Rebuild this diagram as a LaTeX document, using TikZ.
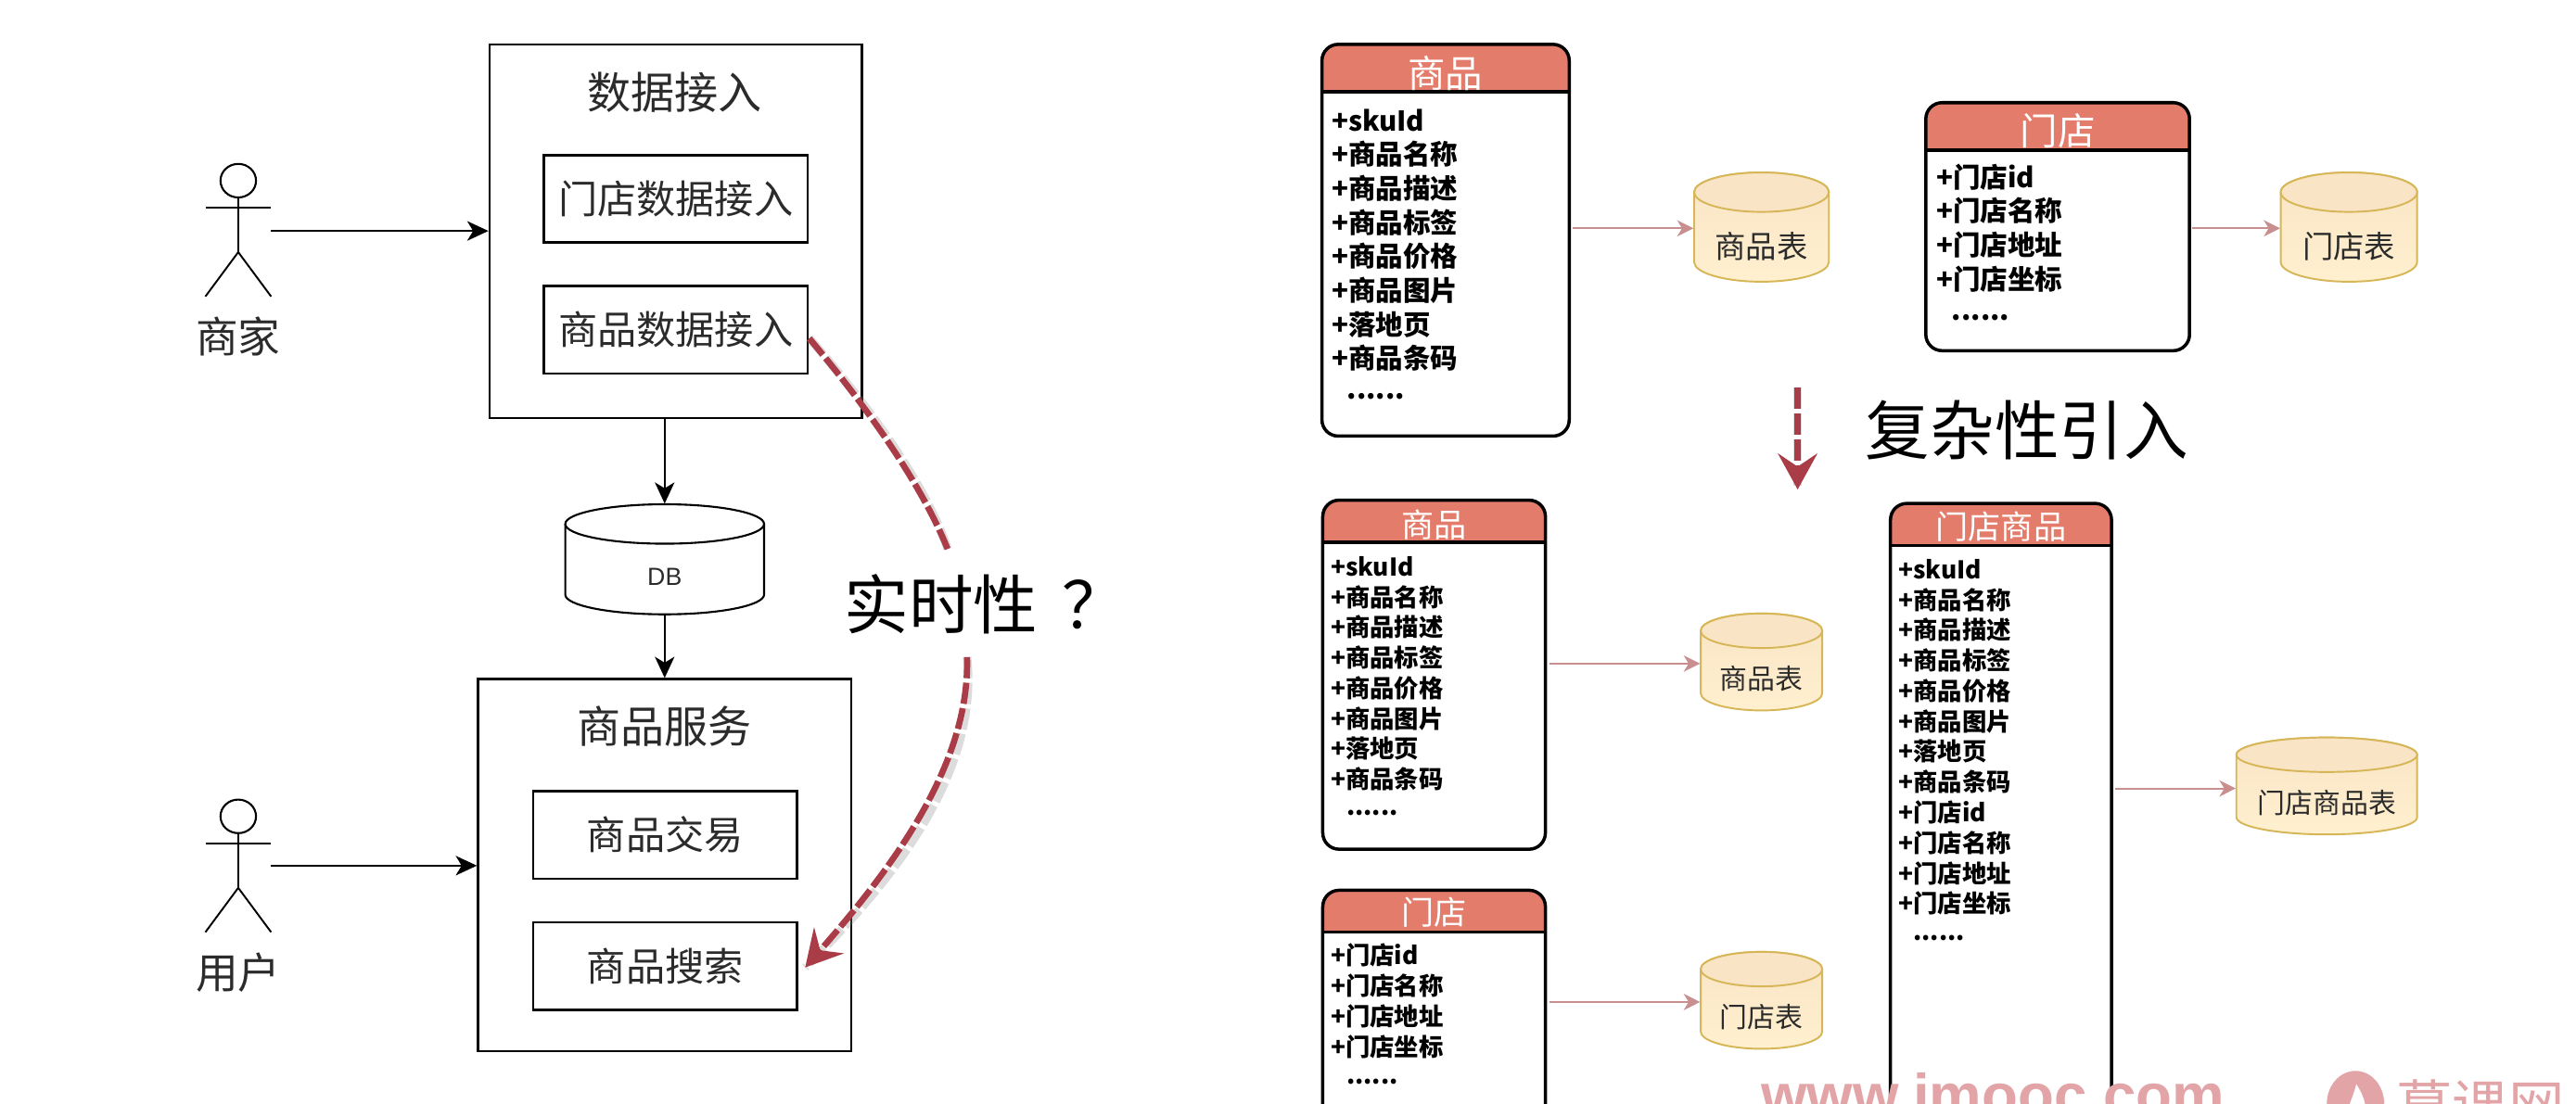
\documentclass[tikz,border=0pt]{standalone}
\usepackage{fontspec}
\setmainfont{Noto Sans CJK SC}
\newfontfamily\libsans{Liberation Sans}
\usetikzlibrary{arrows.meta,fit,calc,shapes.geometric}
\definecolor{hdrfill}{HTML}{E37C6A}
\definecolor{redline}{HTML}{A93C46}
\definecolor{pinkline}{HTML}{C98F8F}
\definecolor{cylstroke}{HTML}{D6B656}
\definecolor{cyltop}{HTML}{F9E4C6}
\definecolor{cylbot}{HTML}{FFF0CF}
\definecolor{wmark}{HTML}{E2A4A6}
\definecolor{softtext}{HTML}{2B2B2B}
\tikzset{
  plainbox/.style={draw=black,line width=0.75pt,inner sep=0pt},
  actorline/.style={draw=black,line width=0.55pt},
  thinarrow/.style={draw=black,line width=0.6pt,-{Stealth[length=6.5pt,width=6pt,inset=1.8pt]}},
  pinkarrow/.style={draw=pinkline,line width=0.55pt,-{Stealth[length=5pt,width=5pt,inset=1.5pt]}},
  reddash/.style={draw=redline,line width=1.9pt,dash pattern=on 6.5pt off 1.4pt},
  redshadow/.style={draw=black!45,opacity=.3,line width=2.6pt,dash pattern=on 6.5pt off 1.4pt},
  redtip/.style={-{Stealth[length=11pt,width=12pt,inset=4pt]}},
  titletext/.style={font=\fontsize{13.4}{14}\selectfont,text=softtext,inner sep=0pt},
  subtext/.style={font=\fontsize{12}{13}\selectfont,text=softtext,inner sep=0pt},
  bigtext/.style={font=\fontsize{19.8}{21}\selectfont,text=black,inner sep=0pt},
  umledge/.style={draw=black,line width=1pt},
  rowtext/.style={anchor=base west,inner sep=0pt,text=black},
  cylinderline/.style={draw=cylstroke,line width=0.55pt},
  headoval/.style={draw=black,line width=.6pt,ellipse,inner sep=0pt,minimum width=10.9pt,minimum height=10.3pt},
}
\newcommand{\bx}[7]{%
  \node[fit={(#2,#3)(#4,#5)},inner sep=0pt,#6] (#1) {};
  \node[subtext] (#1-text) at (#1.center) {#7};
}
% UML table: name x1 y1 x2 y2 headerbottom headery size text
\newcommand{\umltable}[9]{%
  \fill[hdrfill] (#2,#6) {[rounded corners=5pt] -- (#2,#3) -- (#4,#3)} -- (#4,#6) -- cycle;
  \draw[umledge,rounded corners=5pt] (#2,#3) rectangle (#4,#5);
  \draw[umledge] (#2,#6) -- (#4,#6);
  \node[fit={(#2,#3)(#4,#5)},inner sep=0pt] (#1) {};
  \node[text=white,inner sep=0pt,font=\fontsize{#8}{#8}\selectfont] (#1-head) at ({(#2+#4)/2},#7) {#9};
}
\newcommand{\rows}[6]{% name x y0 step size list
  \foreach \t [count=\i] in {#6}{
    \node[rowtext,font=\bfseries\fontsize{#5}{#5}\selectfont] (#1-r\i) at (#2,{#3+#4*(\i-1)}) {\t};
  }
}
% cylinder: name x1 y1 x2 y2 ry labely size text
\newcommand{\cyl}[9]{%
  \pgfmathsetmacro\cmx{(#2+#4)/2}\pgfmathsetmacro\crx{(#4-#2)/2}
  \pgfmathsetmacro\ckx{.5523*\crx}\pgfmathsetmacro\cky{.5523*#6}
  \pgfmathsetmacro\cya{#3+#6}\pgfmathsetmacro\cyb{#5-#6}
  \draw[cylinderline,top color=cyltop,bottom color=cylbot]
    (#2,\cya) -- (#2,\cyb) .. controls (#2,\cyb+\cky) and (\cmx-\ckx,#5) .. (\cmx,#5)
    .. controls (\cmx+\ckx,#5) and (#4,\cyb+\cky) .. (#4,\cyb) -- (#4,\cya)
    .. controls (#4,\cya-\cky) and (\cmx+\ckx,#3) .. (\cmx,#3)
    .. controls (\cmx-\ckx,#3) and (#2,\cya-\cky) .. (#2,\cya) -- cycle;
  \draw[cylinderline,fill=cyltop]
    (#2,\cya) .. controls (#2,\cya+\cky) and (\cmx-\ckx,\cya+#6) .. (\cmx,\cya+#6)
    .. controls (\cmx+\ckx,\cya+#6) and (#4,\cya+\cky) .. (#4,\cya)
    .. controls (#4,\cya-\cky) and (\cmx+\ckx,#3) .. (\cmx,#3)
    .. controls (\cmx-\ckx,#3) and (#2,\cya-\cky) .. (#2,\cya) -- cycle;
  \node[fit={(#2,#3)(#4,#5)},inner sep=0pt] (#1) {};
  \node[inner sep=0pt,text=softtext,font=\fontsize{#8}{#8}\selectfont] (#1-label) at (\cmx,#7) {#9};
}
% actor: name cx headcentre-y label labely
\newcommand{\actor}[5]{%
  \node[headoval] (#1-head) at (#2,#3) {};
  \coordinate (#1-hip) at (#2,{#3+43.5});
  \coordinate (#1-larm) at ({#2-20},{#3+16.5});
  \coordinate (#1-rarm) at ({#2+20},{#3+16.5});
  \coordinate (#1-lfoot) at ({#2-20},{#3+70.5});
  \coordinate (#1-rfoot) at ({#2+20},{#3+70.5});
  \draw[actorline] (#1-head.south) -- (#1-hip);
  \draw[actorline] (#1-larm) -- (#1-rarm);
  \draw[actorline] (#1-lfoot) -- (#1-hip) -- (#1-rfoot);
  \node[titletext,font=\fontsize{13}{14}\selectfont] (#1-name) at (#2,#5) {#4};
}
\begin{document}
\begin{tikzpicture}[x=0.01772cm,y=-0.01772cm]
\path[use as bounding box,clip] (0,0) rectangle (1567.7,671.6);
\fill[white] (0,0) rectangle (1567.7,671.6);

% ---------- left diagram
\bx{ingest}{298}{27}{524.5}{254.5}{plainbox}{}
\node[titletext] (ingesttitle) at (410.5,56) {数据接入};
\bx{storein}{331}{94.5}{491.5}{147.5}{plainbox}{门店数据接入}
\bx{skuin}{331}{174}{491.5}{227.5}{plainbox}{商品数据接入}

\actor{seller}{145}{110}{商家}{205}
\coordinate (sellerout) at (165,140.6);
\draw[thinarrow] (sellerout) -- (sellerout -| ingest.west);

\bx{db}{344}{307}{465}{374}{}{}
\draw[draw=black,line width=.6pt] (344,319) -- (344,362) .. controls (344,368.5) and (370.5,374) .. (404.5,374)
  .. controls (438.5,374) and (465,368.5) .. (465,362) -- (465,319);
\draw[draw=black,line width=.6pt] (344,319) .. controls (344,325.5) and (370.5,331) .. (404.5,331)
  .. controls (438.5,331) and (465,325.5) .. (465,319)
  .. controls (465,312.5) and (438.5,307) .. (404.5,307)
  .. controls (370.5,307) and (344,312.5) .. (344,319) -- cycle;
\node[inner sep=0pt,text=softtext,font=\libsans\fontsize{7.6}{8}\selectfont] (dblabel) at (404.5,351) {DB};
\draw[thinarrow] (ingest.south -| db.north) -- (db.north);

\bx{service}{291}{413.5}{518}{640}{plainbox}{}
\node[titletext] (servicetitle) at (404.5,442) {商品服务};
\bx{trade}{324.5}{481.5}{485}{535}{plainbox}{商品交易}
\bx{search}{324.5}{561.5}{485}{615}{plainbox}{商品搜索}
\draw[thinarrow] (db.south) -- (service.north -| db.south);

\actor{buyer}{145}{497}{用户}{592}
\coordinate (buyerout) at (165,527);
\draw[thinarrow] (buyerout) -- (buyerout -| service.west);

\coordinate (rta) at (492.5,206);
\coordinate (rtb) at (577,335);
\coordinate (rtc) at (588.5,400);
\coordinate (rtd) at (490,589);
\draw[redshadow,shift={(4,3)}] (rta) .. controls (521,240) and (559,290) .. (rtb);
\draw[redshadow,shift={(5,3)}] (rtc) .. controls (590.5,465) and (543.5,528) .. (rtd);
\draw[reddash] (rta) .. controls (521,240) and (559,290) .. (rtb);
\draw[reddash,redtip] (rtc) .. controls (590.5,465) and (543.5,528) .. (rtd);
\node[bigtext,anchor=west] (rtlabel) at (513.5,368) {实时性\hspace{.38em}？};

% ---------- top right
\umltable{sku1}{804.5}{27}{955}{265.5}{56}{44.5}{11.5}{商品}
\rows{sku1}{810}{79.6}{20.7}{8.4}{+skuId,+商品名称,+商品描述,+商品标签,+商品价格,+商品图片,+落地页,+商品条码}
\node[rowtext,font=\bfseries\fontsize{8.4}{8.4}\selectfont] (sku1-more) at (819.5,243) {......};
\cyl{skutab1}{1031}{105}{1113}{171.5}{12}{150}{9.5}{商品表}
\coordinate (sku1out) at (957,139);
\draw[pinkarrow] (sku1out) -- (sku1out -| skutab1.west);

\umltable{shop1}{1172}{62.5}{1332.5}{213.5}{91.5}{79.5}{11.5}{门店}
\rows{shop1}{1178}{114}{20.7}{8.4}{+门店id,+门店名称,+门店地址,+门店坐标}
\node[rowtext,font=\bfseries\fontsize{8.4}{8.4}\selectfont] (shop1-more) at (1187.5,195) {......};
\cyl{shoptab1}{1388}{105}{1471}{171.5}{12}{150}{9.5}{门店表}
\coordinate (shop1out) at (1334,139);
\draw[pinkarrow] (shop1out) -- (shop1out -| shoptab1.west);

% ---------- middle
\coordinate (cxa) at (1094,236);
\coordinate (cxb) at (1094,298);
\draw[redshadow,shift={(4,2)}] (cxa) -- (cxb);
\draw[reddash,redtip] (cxa) -- (cxb);
\node[bigtext] (cxlabel) at (1233.5,262) {复杂性引入};

% ---------- bottom right
\umltable{sku2}{805}{304.5}{940.5}{517}{330}{319.5}{10}{商品}
\rows{sku2}{809.5}{350.6}{18.5}{7.5}{+skuId,+商品名称,+商品描述,+商品标签,+商品价格,+商品图片,+落地页,+商品条码}
\node[rowtext,font=\bfseries\fontsize{7.5}{7.5}\selectfont] (sku2-more) at (819,496.5) {......};
\cyl{skutab2}{1035}{373.5}{1109}{432.5}{10.5}{413}{8.5}{商品表}
\coordinate (sku2out) at (943,404);
\draw[pinkarrow] (sku2out) -- (sku2out -| skutab2.west);

\umltable{shop2}{805}{542}{940.5}{700}{567.5}{555.5}{10}{门店}
\rows{shop2}{809.5}{587.4}{18.5}{7.5}{+门店id,+门店名称,+门店地址,+门店坐标}
\node[rowtext,font=\bfseries\fontsize{7.5}{7.5}\selectfont] (shop2-more) at (819,660) {......};
\cyl{shoptab2}{1035}{579.5}{1109}{638.5}{10.5}{619}{8.5}{门店表}
\coordinate (shop2out) at (943,610);
\draw[pinkarrow] (shop2out) -- (shop2out -| shoptab2.west);

\umltable{mix}{1150.5}{306.5}{1285}{700}{332}{320.5}{10}{门店商品}
\rows{mix}{1155}{352.3}{18.5}{7.5}{+skuId,+商品名称,+商品描述,+商品标签,+商品价格,+商品图片,+落地页,+商品条码,+门店id,+门店名称,+门店地址,+门店坐标}
\node[rowtext,font=\bfseries\fontsize{7.5}{7.5}\selectfont] (mix-more) at (1164,572.5) {......};
\cyl{mixtab}{1361}{449}{1471}{508}{10.5}{488.5}{8.5}{门店商品表}
\coordinate (mixout) at (1287,480);
\draw[pinkarrow] (mixout) -- (mixout -| mixtab.west);

% ---------- watermark (cut by the picture edge)
\node[anchor=base west,inner sep=0pt,text=wmark,font=\libsans\bfseries\fontsize{18.1}{19}\selectfont] (wmurl) at (1071.5,679) {www.imooc.com};
\node[ellipse,inner sep=0pt,minimum width=17.6pt,minimum height=20.2pt,fill=wmark] (wmlogo) at (1433.5,672) {};
\fill[white] (1434,660) .. controls (1439,668) and (1442,675) .. (1438,690) -- (1428,690) .. controls (1425,680) and (1431,672) .. (1434,660) -- cycle;
\node[anchor=base west,inner sep=0pt,text=wmark,font=\fontsize{17.2}{18}\selectfont] (wmname) at (1458,686) {慕课网};
\end{tikzpicture}
\end{document}
